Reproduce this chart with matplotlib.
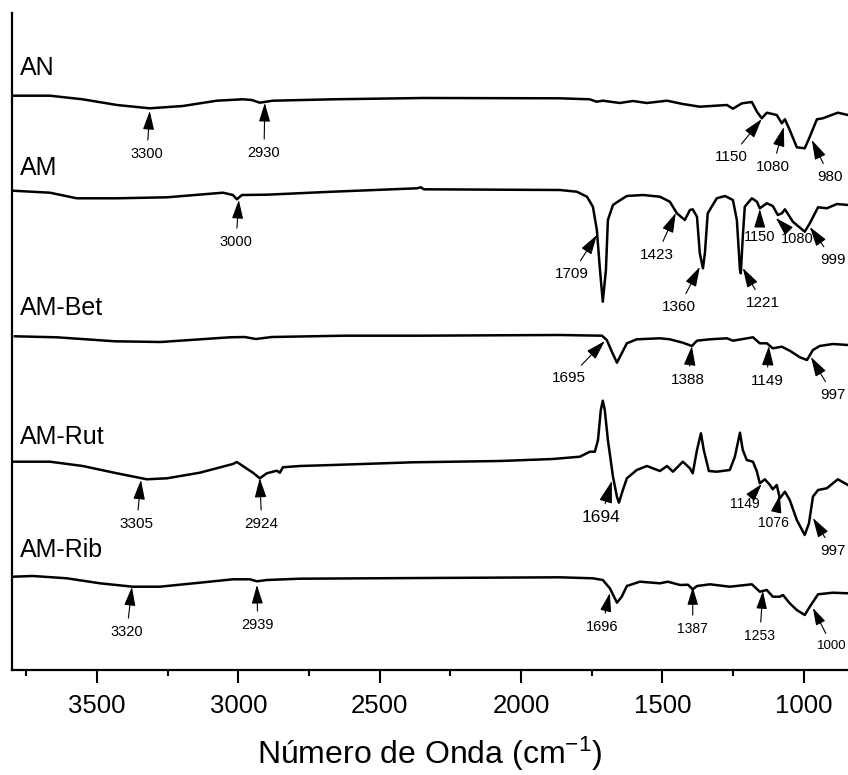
import matplotlib
matplotlib.use('Agg')
import matplotlib.pyplot as plt
from matplotlib.ticker import MultipleLocator

plt.rcParams['font.family'] = ['Liberation Sans', 'DejaVu Sans']
plt.rcParams['mathtext.fontset'] = 'custom'
plt.rcParams['mathtext.rm'] = 'Liberation Sans'
plt.rcParams['mathtext.it'] = 'Liberation Sans:italic'

# espectros FTIR: numero de onda (cm-1) y transmitancia relativa (u.a.)
wn_an = [3797, 3666, 3550, 3429, 3313, 3196, 3076, 2984, 2952, 2924, 2878, 2666, 2344,
         1863, 1757, 1733, 1711, 1651, 1605, 1555, 1484, 1428, 1368, 1272, 1251, 1219,
         1184, 1166, 1149, 1131, 1096, 1078, 1067, 1050, 1025, 997, 979, 954, 933, 880, 844]
t_an = [1.3, 1.3, -2.3, -8, -11.3, -9, -3.7, -2.3, -3, -5.7, -3.7, -2.3, -1,
        -1.3, -2.3, -4.7, -3.7, -6, -4, -6, -3.7, -7, -9.7, -8, -11.7, -6.3,
        -5, -14.7, -21.3, -15.7, -18, -26.3, -22.3, -33, -50.3, -51.3, -39.7, -22.3, -21.3, -15.7, -18]

wn_am = [3797, 3666, 3571, 3429, 3252, 3054, 3019, 3005, 2987, 2899, 2666, 2368, 2354, 2344,
         1863, 1803, 1767, 1746, 1732, 1721, 1711, 1700, 1693, 1675, 1658, 1626, 1569, 1509,
         1474, 1449, 1421, 1403, 1393, 1378, 1368, 1357, 1350, 1340, 1308, 1279, 1251, 1237,
         1226, 1223, 1216, 1209, 1184, 1166, 1156, 1131, 1110, 1092, 1078, 1067, 1039, 997,
         979, 950, 919, 883, 844]
t_am = [0.3, -1.7, -7.3, -7.3, -6.3, -1.7, -4, -8.3, -4, -3.7, -0.7, 2.7, 3.7, 1.7,
        1, -0.7, -5.7, -15.7, -39, -79, -110.7, -79, -29, -14, -10.7, -5, -4, -5.7,
        -10.7, -22.3, -29, -19, -18.3, -25.7, -62.3, -77.3, -62.3, -22.3, -7.3, -5, -9, -29,
        -79, -82.3, -45.7, -15.7, -7.3, -10.7, -17.3, -12.3, -15, -24, -22.3, -18.3, -30.7, -40.7,
        -32.3, -16.3, -17.3, -13, -14]

wn_bet = [3790, 3641, 3436, 3274, 3030, 2977, 2938, 2881, 2627, 2354, 2086, 1863, 1714,
          1697, 1679, 1661, 1644, 1626, 1591, 1509, 1474, 1428, 1396, 1378, 1332, 1272,
          1251, 1180, 1156, 1131, 1110, 1078, 1050, 1014, 989, 968, 944, 898, 844]
t_bet = [1.7, 0.7, -3.3, -4, 0.7, 1, -1, 1, 2.3, 2.3, 2.7, 3, 2.3,
         -2, -13.7, -24.7, -15.3, -5.3, -1.3, -0.3, -1.3, -4.7, -8, -2.7, -1.3, -0.3,
         -2.7, 0.7, -5.3, -5.3, -10.3, -8.7, -12.7, -19.3, -22, -12, -8, -6, -7]

wn_rut = [3797, 3666, 3550, 3429, 3323, 3252, 3136, 3019, 3005, 2984, 2948, 2924, 2899,
          2864, 2853, 2842, 2782, 2666, 2383, 2075, 1888, 1792, 1757, 1739, 1728, 1718,
          1711, 1704, 1693, 1675, 1661, 1654, 1640, 1626, 1591, 1555, 1509, 1484, 1463,
          1428, 1403, 1393, 1378, 1364, 1354, 1336, 1308, 1262, 1244, 1226, 1216, 1202,
          1180, 1166, 1156, 1138, 1120, 1110, 1096, 1085, 1067, 1050, 1025, 997, 982,
          968, 950, 919, 880, 844]
t_rut = [0.3, 0.3, -4, -11.3, -17.3, -16.3, -10.7, -2, 0, -4, -10.7, -16.3, -11.3,
         -8.7, -10.7, -5.3, -4, -3, -0.3, 1, 3, 5.3, 10.3, 10.3, 22, 52,
         61.3, 52, 22, -14.7, -34.7, -40.7, -28, -16.3, -8, -4, -9, -4, -9.7,
         0.3, -6.3, -11.3, 12, 28.7, 12, -9, -9.7, -8, 5.3, 29.3, 12, 2,
         0.3, -9.7, -21.3, -17.3, -23, -27.3, -23, -36.3, -29.7, -38, -58, -73, -61.3,
         -34.7, -28, -26.3, -17.3, -23]

wn_rib = [3797, 3726, 3606, 3489, 3373, 3277, 3136, 3019, 2959, 2934, 2899, 2782, 2344,
          1863, 1746, 1711, 1686, 1661, 1644, 1626, 1580, 1509, 1481, 1438, 1410, 1393,
          1378, 1332, 1262, 1184, 1156, 1131, 1110, 1085, 1074, 1050, 1025, 997, 979,
          950, 898, 844]
t_rib = [0.3, 1, -1.3, -6.3, -9.7, -9.7, -5.7, -2.3, -2.3, -4.3, -3, -1.7, -1,
         -0.3, -1.3, -3, -11.3, -25.7, -19.7, -9, -4.7, -6.3, -4.7, -8, -7.7, -12.3,
         -9, -7.3, -9.7, -7.3, -14.7, -13, -19.7, -19.7, -18, -26.3, -33, -38, -29.7,
         -17.3, -15.7, -16.3]

nombres = ['AN', 'AM', 'AM-Bet', 'AM-Rut', 'AM-Rib']
numeros_onda = [wn_an, wn_am, wn_bet, wn_rut, wn_rib]
transmitancias = [t_an, t_am, t_bet, t_rut, t_rib]
desplazamiento = [573, 479, 332, 208, 93]
pos_nombre = [602, 502, 362, 233, 120]

# (etiqueta, punta x, punta y, texto x, texto y, tamano)
picos = [
    ('3300', 3313, 559, 3323, 516, 10.5), ('2930', 2906, 567, 2909, 517, 10.5),
    ('1150', 1149, 551, 1258, 513, 11), ('1080', 1071, 543, 1110, 503, 11),
    ('980', 972, 530, 908, 493, 11),
    ('3000', 2998, 470, 3008, 428, 10.5), ('1709', 1732, 435, 1820, 396, 11),
    ('1423', 1453, 457, 1520, 415, 11), ('1360', 1368, 403, 1442, 363, 11),
    ('1221', 1216, 402, 1145, 367, 11), ('1150', 1156, 461, 1156, 433, 10.5),
    ('1080', 1099, 452, 1025, 431, 10.5), ('999', 979, 443, 896, 410, 11),
    ('1695', 1704, 329, 1831, 292, 11), ('1388', 1396, 324, 1410, 290, 11),
    ('1149', 1124, 324, 1131, 289, 11), ('997', 975, 313, 896, 275, 11),
    ('3305', 3344, 190, 3359, 146, 11), ('2924', 2924, 192, 2917, 146, 11),
    ('1694', 1679, 189, 1718, 152, 12.5), ('1149', 1149, 186, 1209, 166, 10),
    ('1076', 1085, 175, 1106, 147, 10), ('997', 968, 152, 896, 119, 11),
    ('3320', 3376, 83, 3394, 38, 10.5), ('2939', 2934, 85, 2931, 45, 10.5),
    ('1696', 1686, 77, 1714, 43, 10.5), ('1387', 1393, 83, 1393, 41, 10),
    ('1253', 1145, 79, 1156, 34, 10), ('1000', 968, 62, 900, 24, 9.5),
]

fig = plt.figure(figsize=(8.48, 7.75), dpi=100)
ax = fig.add_axes([12 / 848, 105 / 775, 836 / 848, 657 / 775])

for wn, t, d, nombre, yn in zip(numeros_onda, transmitancias, desplazamiento, nombres, pos_nombre):
    ax.plot(wn, [v + d for v in t], color='black', lw=1.8, solid_joinstyle='round')
    ax.text(3772, yn, nombre, fontsize=18, ha='left', va='center')

for texto, xp, yp, xt, yt, fs in picos:
    ax.annotate(texto, xy=(xp, yp), xytext=(xt, yt), fontsize=fs, ha='center', va='center',
                arrowprops=dict(arrowstyle='-|>,head_length=1.1,head_width=0.33',
                                color='black', lw=0.8, shrinkA=3, shrinkB=0))

ax.set_xlim(3800, 844)
ax.set_ylim(0, 657)
ax.xaxis.set_major_locator(MultipleLocator(500))
ax.xaxis.set_minor_locator(MultipleLocator(250))
ax.set_yticks([])
ax.tick_params(axis='x', which='major', direction='out', length=9.5, width=1.5,
               labelsize=18.5, pad=8)
ax.tick_params(axis='x', which='minor', direction='out', length=4.5, width=1.5)
for lado in ['top', 'right']:
    ax.spines[lado].set_visible(False)
for lado in ['left', 'bottom']:
    ax.spines[lado].set_linewidth(1.6)

ax.set_xlabel('Número de Onda (cm$^{-1}$)', fontsize=23, labelpad=12)

fig.savefig('out.png', dpi=100)
